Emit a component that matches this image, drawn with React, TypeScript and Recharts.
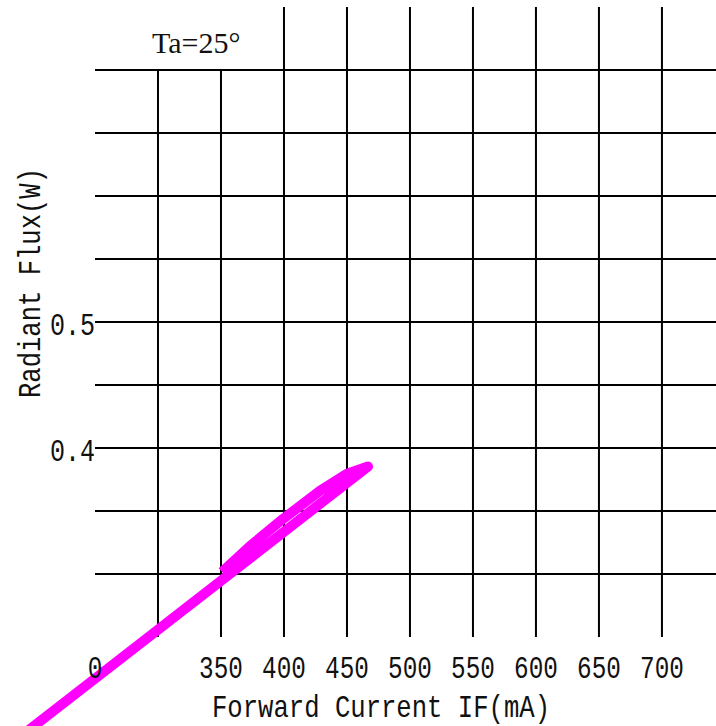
import { LineChart, Line, XAxis, YAxis, ReferenceLine } from 'recharts';

// Forward current (mA) vs radiant flux (W), points in drawing order
const current = [184.9, 466.7, 450.0, 428.6, 399.2, 373.0, 350.8];
const flux = [0.1664, 0.3853, 0.3795, 0.366, 0.3437, 0.3221, 0.3017];

const currentTicks = [250, 350, 400, 450, 500, 550, 600, 650, 700];
const currentLabels = ['0', '350', '400', '450', '500', '550', '600', '650', '700'];
const fluxTicks = [0.4, 0.5];
const fluxLabels = ['0.4', '0.5'];

const gridCurrent = [300, 350, 400, 450, 500, 550, 600, 650, 700];
const gridCurrentTop = [0.7, 0.7, 0.75, 0.75, 0.75, 0.75, 0.75, 0.75, 0.75];
const gridFlux = [0.3, 0.35, 0.4, 0.45, 0.5, 0.55, 0.6, 0.65, 0.7];

const data = current.map((c, i) => ({ current: c, flux: flux[i] }));

const MONO = '"Liberation Mono", "DejaVu Sans Mono", monospace';
const FS = 32;
const CHAR_W = 14.6;

function XTick({ x, y, payload }: any) {
  const i = currentTicks.indexOf(payload.value);
  const label = currentLabels[i] ?? String(payload.value);
  return (
    <text x={x} y={y + 41} textAnchor="middle" fontFamily={MONO} fontSize={FS} fill="#111"
      textLength={label.length * CHAR_W} lengthAdjust="spacingAndGlyphs">
      {label}
    </text>
  );
}

function YTick({ x, y, payload }: any) {
  const i = fluxTicks.indexOf(payload.value);
  const label = fluxLabels[i] ?? String(payload.value);
  return (
    <text x={x} y={y + 13} textAnchor="end" fontFamily={MONO} fontSize={FS} fill="#111"
      textLength={label.length * 15} lengthAdjust="spacingAndGlyphs">
      {label}
    </text>
  );
}

export default function App() {
  return (
    <div style={{ position: 'absolute', left: 0, top: 0, width: 716, height: 726, background: '#fff' }}>
      <style>{`.recharts-line-curve, .recharts-line * { clip-path: none !important; }`}</style>
      <LineChart width={716} height={726} data={data} margin={{ top: 7, right: 0, left: 0, bottom: 0 }}>
        <XAxis
          dataKey="current"
          type="number"
          domain={[250, 742.9]}
          allowDataOverflow
          ticks={currentTicks}
          interval={0}
          height={89}
          axisLine={false}
          tickLine={false}
          tickSize={0}
          tickMargin={0}
          tick={<XTick />}
        />
        <YAxis
          type="number"
          domain={[0.25, 0.75]}
          allowDataOverflow
          ticks={fluxTicks}
          interval={0}
          width={95}
          axisLine={false}
          tickLine={false}
          tickSize={0}
          tickMargin={0}
          tick={<YTick />}
        />
        {gridFlux.map((v) => (
          <ReferenceLine key={'h' + v} y={v} stroke="#000" strokeWidth={2} />
        ))}
        {gridCurrent.map((v, i) => (
          <ReferenceLine
            key={'v' + v}
            segment={[{ x: v, y: 0.25 }, { x: v, y: gridCurrentTop[i] }]}
            stroke="#000"
            strokeWidth={2}
          />
        ))}
        <Line
          dataKey="flux"
          type="linear"
          stroke="#ff00ff"
          strokeWidth={10}
          strokeLinejoin="round"
          strokeLinecap="butt"
          dot={false}
          activeDot={false}
          isAnimationActive={false}
        />
        <text x={152} y={53} fontFamily='"Liberation Serif", serif' fontSize={30} fill="#111">Ta=25°</text>
        <text x={381} y={717} textAnchor="middle" fontFamily={MONO} fontSize={FS} fill="#111"
          textLength={338} lengthAdjust="spacingAndGlyphs">Forward Current IF(mA)</text>
        <text transform="translate(40,283) rotate(-90)" textAnchor="middle" fontFamily={MONO} fontSize={FS} fill="#111"
          textLength={230} lengthAdjust="spacingAndGlyphs">Radiant Flux(W)</text>
      </LineChart>
    </div>
  );
}
